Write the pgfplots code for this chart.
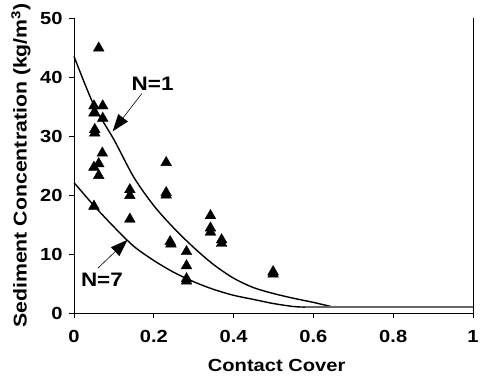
\documentclass[border=0pt]{standalone}
\usepackage{fontspec}
\setmainfont{Liberation Sans}[FakeStretch=1.15]
\usepackage{pgfplots}
\pgfplotsset{compat=1.18}
\usetikzlibrary{arrows.meta}
\begin{document}
\begin{tikzpicture}
\begin{axis}[
  scale only axis, width=399pt, height=295pt,
  xmin=0, xmax=1, ymin=0, ymax=50,
  axis x line*=bottom, axis y line*=left,
  axis line style={line width=0.8pt, -},
  tick align=outside, major tick length=5pt,
  tick style={line width=0.8pt, black},
  xtick={0,0.2,0.4,0.6,0.8,1}, ytick={0,10,20,30,40,50},
  xticklabels={0,0.2,0.4,0.6,0.8,1},
  /pgf/number format/assume math mode=true,
  ticklabel style={font=\fontsize{17.5}{20}\selectfont\bfseries},
  xticklabel style={yshift=-9pt},
  yticklabel style={xshift=-3pt},
  xlabel={Contact Cover},
  ylabel={Sediment Concentration (kg/m\textsuperscript{3})},
  label style={font=\fontsize{17.5}{20}\selectfont\bfseries},
  ylabel style={font=\fontsize{18.5}{20}\selectfont\bfseries},
  xlabel style={at={(axis description cs:0.508,-0.178)}, anchor=center},
  ylabel style={at={(axis description cs:-0.133,0.5)}, anchor=center},
  clip=false,
]
\addplot[only marks, mark=triangle*, mark size=6.2pt, black] coordinates {
(0.062,44.9)
(0.050,35.1)(0.072,35.1)(0.050,33.9)(0.072,33.0)
(0.052,31.1)(0.052,30.5)(0.071,27.1)(0.062,25.3)(0.050,24.7)(0.062,23.3)(0.050,18.1)
(0.140,20.9)(0.140,19.9)(0.140,15.9)
(0.231,25.5)(0.231,20.4)(0.231,20.0)(0.241,12.1)(0.243,11.7)
(0.282,10.4)(0.282,8.0)(0.282,5.8)(0.282,5.4)
(0.342,16.5)(0.342,14.4)(0.342,13.7)(0.370,12.4)(0.370,11.8)
(0.499,7.0)(0.499,6.6)
};
\addplot[black, line width=1.4pt, smooth] coordinates {
(0,43.5)(0.05,35.2)(0.1,29.4)(0.15,23.0)(0.2,18.2)(0.25,14.4)(0.3,11.1)(0.35,8.2)(0.4,5.9)(0.45,4.3)(0.5,3.3)(0.55,2.5)(0.6,1.8)(0.65,1.0)
};
\addplot[black, line width=1.4pt, smooth] coordinates {
(0,22.1)(0.05,18.2)(0.1,14.6)(0.15,11.3)(0.2,8.9)(0.25,6.9)(0.3,5.3)(0.35,4.0)(0.4,3.0)(0.45,2.3)(0.5,1.6)(0.55,1.1)(0.58,1.0)
};
\addplot[black!60, line width=1.4pt] coordinates {(0.58,1.0)(1,1.0)};
\draw[line width=0.8pt] (axis cs:1,0) -- (axis cs:1,50);
\draw[line width=0.6pt, -{Triangle[length=17pt,width=12pt]}] (axis cs:0.170,37.2) -- (axis cs:0.097,30.8);
\draw[line width=0.6pt, -{Triangle[length=17pt,width=12pt]}] (axis cs:0.060,7.6) -- (axis cs:0.134,12.4);
\node[font=\fontsize{19.5}{22}\selectfont\bfseries] at (axis cs:0.197,38.8) {N=1};
\node[font=\fontsize{19.5}{22}\selectfont\bfseries] at (axis cs:0.070,5.6) {N=7};
\end{axis}
\pgfresetboundingbox
\useasboundingbox (-74pt,-63pt) rectangle (407pt,313pt);
\end{tikzpicture}
\end{document}
